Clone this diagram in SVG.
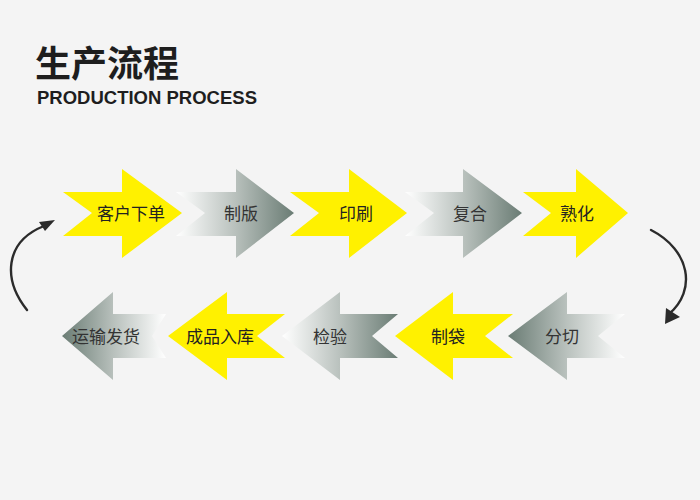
<svg xmlns="http://www.w3.org/2000/svg" width="700" height="500" viewBox="0 0 700 500">
  <style>
    .yellow { fill: #fff100; }
    .lbl { font-family: "Noto Sans CJK SC", "Noto Sans", sans-serif; font-size: 17px; text-anchor: middle; }
    .lbl-y { fill: #222222; }
    .lbl-g { fill: #333333; }
    .conn { fill: none; stroke: #2b2b2b; stroke-width: 2.4; stroke-linecap: round; }
    .head { fill: #2b2b2b; }
  </style>
  <defs>
    <linearGradient id="gLR" x1="0" y1="0" x2="1" y2="0">
      <stop offset="0" stop-color="#ffffff"/>
      <stop offset="0.5" stop-color="#b9c1bd"/>
      <stop offset="1" stop-color="#6a7c74"/>
    </linearGradient>
    <linearGradient id="gRL" x1="1" y1="0" x2="0" y2="0">
      <stop offset="0" stop-color="#ffffff"/>
      <stop offset="0.5" stop-color="#b9c1bd"/>
      <stop offset="1" stop-color="#6a7c74"/>
    </linearGradient>
  </defs>
  <rect x="0" y="0" width="700" height="500" fill="#f4f4f4"/>

  <g id="title">
    <text x="35" y="77" font-family="'Noto Sans CJK SC', sans-serif" font-size="36" font-weight="bold" fill="#1e1e1e">生产流程</text>
    <text x="37" y="104" font-family="'Liberation Sans', Arial, sans-serif" font-size="18.5" font-weight="bold" fill="#1e1e1e">PRODUCTION PROCESS</text>
  </g>

  <g id="connectors">
    <path class="conn" d="M27,310 C3,280 4,242 44,226"/>
    <polygon class="head" points="39,222 55,220 45,231"/>
    <path class="conn" d="M651,230 C690,250 697,290 669,314"/>
    <polygon class="head" points="666,308 665,324 680,317"/>
  </g>

  <!-- top row -->
  <g id="node-kehuxiadan">
    <polygon class="yellow" points="63,192 122,192 122,169 182,213 122,258 122,236 63,236 92,213"/>
    <text class="lbl lbl-y" x="131" y="220">客户下单</text>
  </g>
  <g id="node-zhiban">
    <polygon fill="url(#gLR)" points="176,192 236,192 236,169 294,213 236,258 236,236 176,236 205,213"/>
    <text class="lbl lbl-g" x="241" y="220">制版</text>
  </g>
  <g id="node-yinshua">
    <polygon class="yellow" points="290,192 349,192 349,169 407,213 349,258 349,236 290,236 319,213"/>
    <text class="lbl lbl-y" x="356" y="220">印刷</text>
  </g>
  <g id="node-fuhe">
    <polygon fill="url(#gLR)" points="405,192 463,192 463,169 522,213 463,258 463,236 405,236 434,213"/>
    <text class="lbl lbl-g" x="470" y="220">复合</text>
  </g>
  <g id="node-shuhua">
    <polygon class="yellow" points="523,192 576,192 576,169 628,213 576,258 576,236 523,236 551,213"/>
    <text class="lbl lbl-y" x="577" y="220">熟化</text>
  </g>

  <!-- bottom row -->
  <g id="node-fenqie">
    <polygon fill="url(#gRL)" points="508,336 567,292 567,314 625,314 598,336 625,358 567,358 567,380"/>
    <text class="lbl lbl-g" x="562" y="343">分切</text>
  </g>
  <g id="node-zhidai">
    <polygon class="yellow" points="395,336 453,292 453,314 513,314 485,336 513,358 453,358 453,380"/>
    <text class="lbl lbl-y" x="448" y="343">制袋</text>
  </g>
  <g id="node-jianyan">
    <polygon fill="url(#gLR)" points="282,336 340,292 340,314 398,314 372,336 398,358 340,358 340,380"/>
    <text class="lbl lbl-g" x="330" y="343">检验</text>
  </g>
  <g id="node-chengpinruku">
    <polygon class="yellow" points="168,336 227,292 227,314 285,314 257,336 285,358 227,358 227,380"/>
    <text class="lbl lbl-y" x="220" y="343">成品入库</text>
  </g>
  <g id="node-yunshufahuo">
    <polygon fill="url(#gRL)" points="62,336 113,292 113,314 166,314 152,336 166,358 113,358 113,380"/>
    <text class="lbl lbl-g" x="106" y="343">运输发货</text>
  </g>
</svg>
